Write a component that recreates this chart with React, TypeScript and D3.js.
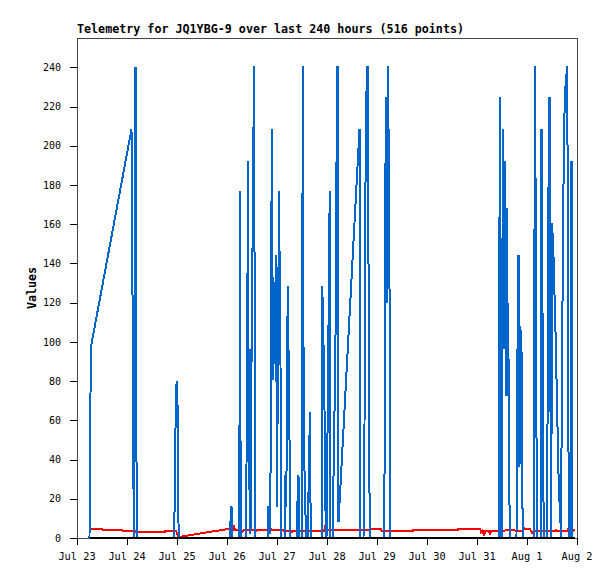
import React from "react";
import * as d3 from "d3";

// Hours since Jul 23 00:00, and channel values
const blueHours = [
  6.0, 6.24, 6.72, 26.16, 26.54, 26.88, 27.36, 28.08, 28.66,
  46.56, 46.94, 47.33, 47.81, 48.38, 48.77,
  73.44, 73.68, 74.16, 74.54, 77.9, 78.24, 78.58,
  81.02, 81.36, 81.74, 82.08, 82.46, 82.9, 83.28, 83.76, 84.48, 84.96, 85.58,
  91.44, 91.68, 92.06, 92.78, 93.5, 94.08, 94.9, 95.52, 96.0, 96.96, 97.68, 98.16,
  99.74, 100.08, 100.46, 101.14, 101.9, 102.38,
  105.36, 105.74, 106.32, 106.7, 108.0, 108.34, 108.86, 109.44, 109.92,
  110.88, 111.22, 111.84, 112.18,
  117.46, 117.74, 118.37, 119.04, 119.38, 119.76, 120.1, 120.72, 121.3, 121.68,
  122.64, 122.98, 123.5, 123.98, 124.46, 125.04, 125.52, 135.6, 135.94,
  137.52, 138.0, 138.38, 138.86, 139.44, 140.02, 140.5,
  147.36, 147.7, 148.18, 148.66, 149.28, 149.9, 150.38,
  202.56, 202.9, 203.38, 204.0, 204.34, 204.86, 205.58, 206.02, 206.3, 206.69, 206.98, 207.46, 207.94,
  210.96, 211.2, 211.92, 212.4, 212.78, 213.36, 213.94,
  219.36, 219.74, 220.32, 220.7, 222.58, 222.96, 223.54, 224.02,
  225.5, 225.84, 226.22, 226.8, 227.28, 227.66, 228.0, 228.62, 229.2, 229.82, 230.26, 230.74,
  231.22, 231.7, 232.08, 232.32, 232.56, 233.04, 233.62, 234.14, 234.62, 235.34, 235.82, 236.3,
  237.02, 237.36, 237.74, 239.04,
];
const blueValues = [
  0, 48.5, 97.7, 208.4, 156, 51.7, 0, 240, 0,
  0, 20.3, 60.3, 80.2, 64.2, 0,
  0, 8.3, 16.3, 0, 0, 176.9, 0,
  0, 36.4, 108, 192.5, 24.5, 96.5, 2, 88.4, 177, 240.7, 0,
  0, 16.3, 10, 2, 208.4, 80.4, 108, 144.5, 16, 177, 88.4, 0,
  0, 32.2, 16, 128.4, 64.5, 0,
  0, 16, 32.2, 0, 0, 240.7, 48.5, 24.5, 0,
  0, 32.2, 64.5, 0,
  0, 128.4, 96.5, 48.5, 0, 0, 36.4, 108, 177, 0,
  0, 20.4, 60.3, 80.4, 180.3, 240.7, 8, 208.4, 0,
  0, 56, 168.5, 224.7, 240.7, 120, 0,
  0, 45, 224.7, 120, 240.7, 160.8, 0,
  0, 224.7, 0, 0, 208.4, 96.5, 192.5, 72.2, 168.5, 72.2, 120, 24.5, 0,
  0, 72.2, 144.5, 36.4, 108, 96.5, 0,
  0, 240.7, 144.5, 0, 0, 208.4, 96.5, 0,
  0, 56, 168.5, 224.7, 64.5, 0, 160.8, 148, 124, 99.8, 76, 51.7,
  28, 16, 7.8, 0, 45, 120, 192.5, 224.7, 232.5, 240.7, 56, 0,
  0, 192.5, 0, 0,
];

const redHours = [
  6.24, 12.0, 12.24, 21.6, 21.84, 28.08, 28.32, 33.84, 34.08, 42.24, 42.48, 47.52, 48.72,
  72.48, 73.44, 74.88, 75.36, 75.84, 78.72, 79.2, 79.92, 85.44, 85.92, 86.4, 92.64, 93.12, 93.6,
  98.88, 99.12, 102.72, 103.2, 103.68, 109.44, 109.92, 110.4, 118.56, 119.04, 119.52, 119.76,
  140.16, 140.64, 145.92, 146.16, 161.28, 161.52, 182.88, 183.12, 193.44, 193.92, 194.64,
  195.36, 195.84, 197.76, 198.24, 198.72, 201.6, 207.84, 214.08, 214.32, 215.04, 217.44,
  218.4, 219.84, 229.44, 229.92, 230.4, 235.2, 235.68, 236.64, 237.6, 238.08, 239.04,
];
const redValues = [
  4.8, 4.8, 4.1, 4.1, 3.6, 3.6, 2.9, 2.9, 3.2, 3.2, 3.8, 3.8, 0.5,
  4.6, 4.1, 4.1, 5.6, 4.1, 4.1, 2.9, 4.1, 4.1, 3.4, 4.1, 4.1, 4.8, 4.1,
  4.1, 3.6, 3.6, 2.9, 3.6, 3.6, 3.0, 3.6, 3.6, 5.4, 3.6, 4.1,
  4.1, 4.8, 4.8, 3.8, 3.8, 4.3, 4.3, 4.8, 4.8, 3.1, 4.0,
  1.0, 3.5, 3.5, 1.5, 3.7, 3.7, 3.9, 3.7, 5.6, 4.4, 4.4,
  2.7, 3.6, 3.6, 4.1, 3.6, 3.6, 4.4, 3.6, 4.4, 3.6, 4.4,
];

const blackHours = [6.0, 239.04];
const blackValues = [0, 0];

const yTicks = [0, 20, 40, 60, 80, 100, 120, 140, 160, 180, 200, 220, 240];
const xTickLabels = ["Jul 23", "Jul 24", "Jul 25", "Jul 26", "Jul 27", "Jul 28", "Jul 29", "Jul 30", "Jul 31", "Aug 1", "Aug 2"];

const title = "Telemetry for JQ1YBG-9 over last 240 hours (516 points)";

export default function App() {
  const W = 615, H = 579;
  const left = 77, right = 577, top = 38, bottom = 538;
  const x = d3.scaleLinear().domain([0, 240]).range([left, right]);
  const y = d3.scaleLinear().domain([0, 255]).range([bottom, top]);
  const line = d3
    .line<[number, number]>()
    .x((d) => x(d[0]))
    .y((d) => y(d[1]));
  const zip = (hs: number[], vs: number[]) => hs.map((h, i) => [h, vs[i]] as [number, number]);
  const mono = "'DejaVu Sans Mono', 'Liberation Mono', monospace";

  return (
    <div style={{ position: "absolute", left: 0, top: 0 }}>
      <svg width={W} height={H} style={{ display: "block", background: "#fff" }}>
        <rect x={0} y={0} width={W} height={H} fill="#fff" />
        <text x={left} y={33} fontFamily={mono} fontWeight="bold" fontSize={11.7} fill="#000">
          {title}
        </text>
        {/* frame */}
        <rect
          x={left + 0.5}
          y={top + 0.5}
          width={right - left}
          height={bottom - top}
          fill="none"
          stroke="#444"
          strokeWidth={1}
          shapeRendering="crispEdges"
        />
        {/* y ticks */}
        {yTicks.map((t) => (
          <g key={"y" + t}>
            <line
              x1={70}
              x2={left}
              y1={Math.round(y(t)) + 0.5}
              y2={Math.round(y(t)) + 0.5}
              stroke="#000"
              shapeRendering="crispEdges"
            />
            <text
              x={61}
              y={y(t) + 3.6}
              textAnchor="end"
              fontFamily={mono}
              fontSize={10}
              fill="#000"
            >
              {t}
            </text>
          </g>
        ))}
        {/* x ticks */}
        {xTickLabels.map((lab, i) => {
          const px = Math.round(x(i * 24)) + 0.5;
          return (
            <g key={"x" + i}>
              <line x1={px} x2={px} y1={bottom} y2={bottom + 7} stroke="#000" shapeRendering="crispEdges" />
              <text x={x(i * 24)} y={559.5} textAnchor="middle" fontFamily={mono} fontSize={10.3} fill="#000">
                {lab}
              </text>
            </g>
          );
        })}
        <text
          transform={`translate(36, ${(top + bottom) / 2}) rotate(-90)`}
          textAnchor="middle"
          fontFamily={mono}
          fontWeight="bold"
          fontSize={11.7}
          fill="#000"
        >
          Values
        </text>
        {/* series */}
        <path d={line(zip(redHours, redValues)) || ""} fill="none" stroke="#ff0000" strokeWidth={2} shapeRendering="crispEdges" />
        <path d={line(zip(blueHours, blueValues)) || ""} fill="none" stroke="#0066cc" strokeWidth={2} shapeRendering="crispEdges" />
        <path d={line(zip(blackHours, blackValues)) || ""} fill="none" stroke="#000" strokeWidth={2} shapeRendering="crispEdges" />
      </svg>
    </div>
  );
}
